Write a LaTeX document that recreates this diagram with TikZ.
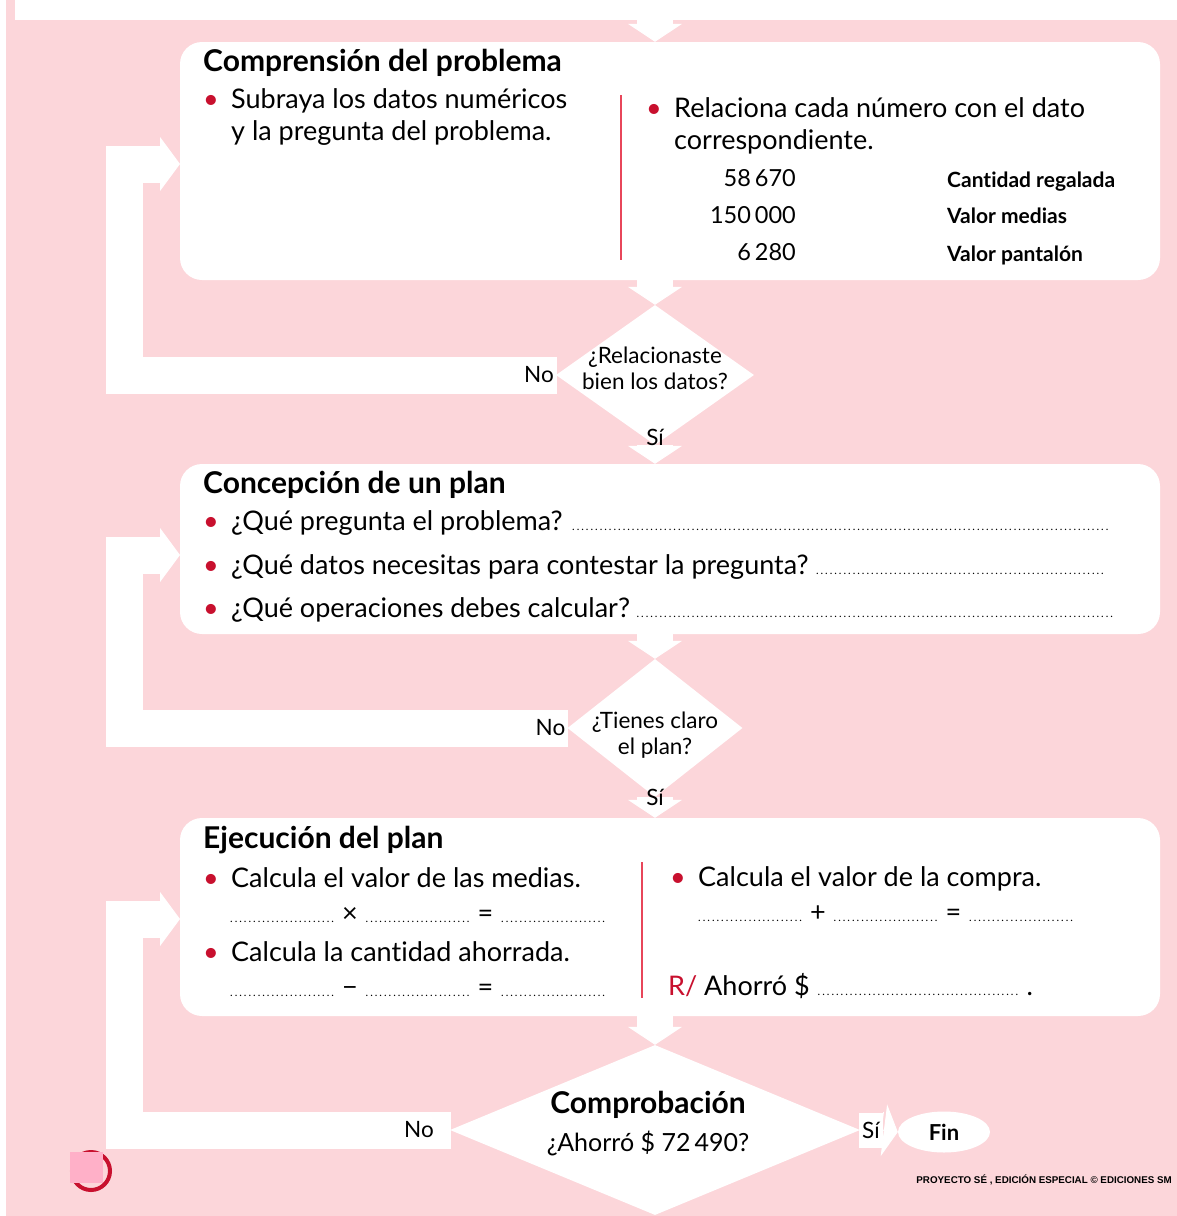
\documentclass[tikz,border=0pt]{standalone}
\usepackage{fontspec}
\setmainfont{Lato}[Ligatures=NoCommon]
\newfontfamily\pie{Liberation Sans}
\usetikzlibrary{arrows.meta,positioning,shapes.geometric}
\definecolor{rosa}{RGB}{252,214,218}
\definecolor{rojo}{RGB}{200,16,46}
\definecolor{raya}{RGB}{232,70,90}
\definecolor{cuadro}{RGB}{255,176,200}
\newcommand{\punto}{\makebox[28pt][l]{\textcolor{rojo}{\textbullet}}}
\newcommand{\relleno}{\leaders\hbox to 4.6pt{\hss{\fontsize{11}{11}\selectfont.}\hss}\hfill}
\newcommand{\puntos}[1]{\makebox[#1][s]{\relleno}}
\tikzset{%
	paso/.style     = {fill=white, rounded corners=22pt, inner sep=0pt}, % step box
	decision/.style = {diamond, fill=white, inner sep=0pt}, % question
	flecha/.style   = {white, line width=1pt, -{Triangle[length=18pt,width=54pt]},
		preaction={draw=white, line width=36pt, -, shorten >=17pt}},
	retorno/.style  = {white, line width=1pt, -{Triangle[length=20pt,width=54pt]},
		preaction={draw=white, line width=37pt, -, shorten >=19pt}},
	etiq/.style     = {fill=white, inner sep=3pt, outer sep=-1pt, minimum height=37pt, font=\fontsize{22.5}{26}\selectfont},
	texto/.style    = {anchor=base west, inner sep=0pt, font=\fontsize{27}{32}\selectfont},
	titulo/.style   = {anchor=base west, inner sep=0pt, font=\fontsize{30}{36}\selectfont\bfseries},
	dato/.style     = {anchor=base west, inner sep=0pt, font=\fontsize{21}{25}\selectfont\bfseries},
	cifra/.style    = {anchor=base east, inner sep=0pt, font=\fontsize{23.5}{28}\selectfont},
	pregunta/.style = {align=center, inner sep=0pt, font=\fontsize{22.5}{26}\selectfont},
	separa/.style   = {raya, line width=1.5pt},
}
\begin{document}
\begin{tikzpicture}[x=1pt, y=-1pt]
		\useasboundingbox (0,0) rectangle (1177,1216);
		\fill[white] (0,0) rectangle (1177,1216);
		\fill[rosa] (6,0) rectangle (1177,1216);
		\fill[white] (15,0) rectangle (1177,20);
		% steps
		\node[paso, minimum width=980pt, minimum height=238pt] (comp) at (670,161) {};
		\node[paso, minimum width=980pt, minimum height=170pt] (plan) at (670,549) {};
		\node[paso, minimum width=980pt, minimum height=198pt] (ejec) at (670,917) {};
		\node[decision, minimum width=198pt, minimum height=140pt] (dec1) at (655,375) {};
		\node[decision, minimum width=175pt, minimum height=138pt] (dec2) at (655,728) {};
		\node[decision, minimum width=410pt, minimum height=170pt] (dec3) at (655,1130) {};
		\node[ellipse, fill=white, minimum width=92pt, minimum height=41pt, font=\fontsize{22}{26}\selectfont\bfseries] (fin) at (944,1132) {Fin};
		% arrows down
		\coordinate (entrada) at (655,0);
		\draw[flecha] (entrada) -- (entrada |- comp.north);
		\draw[flecha] (dec1 |- comp.south) -- (dec1.north);
		\draw[flecha] (dec1.south) -- (dec1 |- plan.north);
		\draw[flecha] (dec2 |- plan.south) -- (dec2.north);
		\draw[flecha] (dec2.south) -- (dec2 |- ejec.north);
		\draw[flecha] (dec3 |- ejec.south) -- (dec3.north);
		% answers
		\node[etiq, anchor=east] (no1) at (dec1.west) {No};
		\node[etiq, anchor=east] (no2) at (dec2.west) {No};
		\node[etiq, anchor=east, inner xsep=17pt] (no3) at (dec3.west) {No};
		\node[etiq, anchor=west, minimum height=35pt] (si3) at (dec3.east) {Sí};
		\node[pregunta] (si1) at (655,437) {Sí};
		\node[pregunta] (si2) at (655,797) {Sí};
		\draw[flecha, -{Triangle[length=14pt,width=52pt]}, preaction={shorten >=13pt}] (si3.east) -- (fin.west);
		% loops back
		\coordinate (in1) at (180,164);
		\coordinate (in2) at (180,555);
		\coordinate (in3) at (180,919);
		\draw[retorno] (no1.west) -| (124.5,164) -- (in1);
		\draw[retorno] (no2.west) -| (124.5,555) -- (in2);
		\draw[retorno] (no3.west) -| (124.5,919) -- (in3);
		% questions
		\node[pregunta] (q1) at (655,368) {¿Relacionaste\\bien los datos?};
		\node[pregunta] (q2) at (655,735) {¿Tienes claro\\el plan?};
		\node[pregunta, font=\fontsize{30}{34}\selectfont\bfseries] (q3a) at (648,1105) {Comprobación};
		\node[pregunta, font=\fontsize{25}{30}\selectfont] (q3b) at (648,1143) {¿Ahorró \$ 72\kern4pt490?};
		% Comprension del problema
		\node[titulo] (t1) at (203,71) {Comprensión del problema};
		\node[texto] (a1) at (203,108) {\punto Subraya los datos numéricos};
		\node[texto] (a2) at (231,140) {y la pregunta del problema.};
		\draw[separa] (621,95) -- (621,260);
		\node[texto] (a3) at (646,117) {\punto Relaciona cada número con el dato};
		\node[texto] (a4) at (674,149) {correspondiente.};
		\node[cifra] (n1) at (796,186) {58\kern4pt670};
		\node[cifra] (n2) at (796,223) {150\kern4pt000};
		\node[cifra] (n3) at (796,260) {6\kern4pt280};
		\node[dato] (d1) at (947,187) {Cantidad regalada};
		\node[dato] (d2) at (947,223) {Valor medias};
		\node[dato] (d3) at (947,261) {Valor pantalón};
		% Concepcion de un plan
		\node[titulo] (t2) at (203,493) {Concepción de un plan};
		\node[texto] (b1) at (203,530) {\makebox[909pt][s]{\punto ¿Qué pregunta el problema?\,\relleno}};
		\node[texto] (b2) at (203,574) {\makebox[906pt][s]{\punto ¿Qué datos necesitas para contestar la pregunta?\,\relleno}};
		\node[texto] (b3) at (203,617) {\makebox[911pt][s]{\punto ¿Qué operaciones debes calcular?\,\relleno}};
		% Ejecucion del plan
		\node[titulo] (t3) at (203,848) {Ejecución del plan};
		\node[texto] (e1) at (203,887) {\punto Calcula el valor de las medias.};
		\node[texto] (e2) at (229,922) {\puntos{106pt} × \puntos{106pt} = \puntos{106pt}};
		\node[texto] (e3) at (203,961) {\punto Calcula la cantidad ahorrada.};
		\node[texto] (e4) at (229,996) {\puntos{106pt} − \puntos{106pt} = \puntos{106pt}};
		\draw[separa] (642,862) -- (642,998);
		\node[texto] (e5) at (670,886) {\punto Calcula el valor de la compra.};
		\node[texto] (e6) at (697,921) {\puntos{106pt} + \puntos{106pt} = \puntos{106pt}};
		\node[texto] (e7) at (668,995) {\textcolor{rojo}{R/} Ahorró \$ \puntos{203pt} .};
		% corner mark and footer
		\draw[rojo, line width=4pt] (91,1171) circle (19);
		\fill[cuadro] (70,1152) rectangle (103,1183);
		\node[anchor=base east, inner sep=0pt, font=\pie\fontsize{9.8}{11}\selectfont\bfseries] (pie) at (1172,1183) {PROYECTO SÉ , EDICIÓN ESPECIAL © EDICIONES SM};
		\end{tikzpicture}
\end{document}
